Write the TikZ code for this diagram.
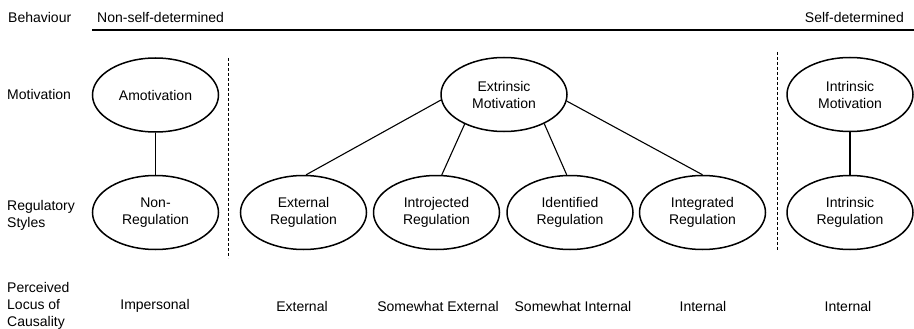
\documentclass[tikz,border=0pt]{standalone}
\usepackage{fontspec}
\setmainfont{Liberation Sans}
\usetikzlibrary{shapes.geometric}
\begin{document}
\begin{tikzpicture}[x=1pt,y=-1pt,
  ell/.style={ellipse,draw,line width=1.5pt,minimum width=126pt,minimum height=74pt,inner sep=0pt,align=center,font=\fontsize{14}{17}\selectfont},
  lab/.style={align=left,anchor=west,font=\fontsize{14}{17}\selectfont,inner sep=0pt},
  txt/.style={align=center,font=\fontsize{14}{17}\selectfont,inner sep=0pt},
  con/.style={line width=1.1pt},
  sepline/.style={line width=1pt,dash pattern=on 3pt off 2pt}]
\useasboundingbox (0,0) rectangle (914,329);
% header
\node[lab] (beh) at (8,17) {Behaviour};
\node[lab] (nsd) at (97,17) {Non-self-determined};
\node[txt,anchor=east] (sd) at (904,17) {Self-determined};
\coordinate (topL) at (92,30);
\coordinate (topR) at (914,30);
\draw[line width=1.3pt] (topL) -- (topR);
% row labels
\node[lab] (motl) at (7,94) {Motivation};
\node[lab] (regl) at (7,215.5) {Regulatory\\Styles};
\node[lab] (locl) at (7,306) {Perceived\\Locus of\\Causality};
% ellipses
\node[ell] (amot) at (155.5,95) {Amotivation};
\node[ell] (extr) at (504,94.5) {Extrinsic\\Motivation};
\node[ell] (intm) at (850,94.5) {Intrinsic\\Motivation};
\node[ell] (nonr) at (155.5,212.5) {Non-\\Regulation};
\node[ell] (extreg) at (303.5,212.5) {External\\Regulation};
\node[ell] (intro) at (436.5,212.5) {Introjected\\Regulation};
\node[ell] (ident) at (570,212.5) {Identified\\Regulation};
\node[ell] (integ) at (702.5,212.5) {Integrated\\Regulation};
\node[ell] (intreg) at (850,212.5) {Intrinsic\\Regulation};
% connectors
\draw[con] (amot.south) -- (nonr.north);
\draw[con] (intm.south) -- (intreg.north);
\draw[con] (extr.185) -- (extreg.86);
\draw[con] (extr.217) -- (intro.82);
\draw[con] (extr.324) -- (ident.95);
\draw[con] (extr.354) -- (integ.north);
% separators
\coordinate (s1t) at (228,58);
\coordinate (s1b) at (228,258);
\coordinate (s2t) at (777,52);
\coordinate (s2b) at (777,250);
\draw[sepline] (s1t) -- (s1b);
\draw[sepline] (s2t) -- (s2b);
% locus values
\node[txt] (l1) at (155,306) {Impersonal};
\node[txt] (l2) at (302,306) {External};
\node[txt] (l3) at (438,306) {Somewhat External};
\node[txt] (l4) at (573,306) {Somewhat Internal};
\node[txt] (l5) at (703,306) {Internal};
\node[txt] (l6) at (848,306) {Internal};
\end{tikzpicture}
\end{document}
